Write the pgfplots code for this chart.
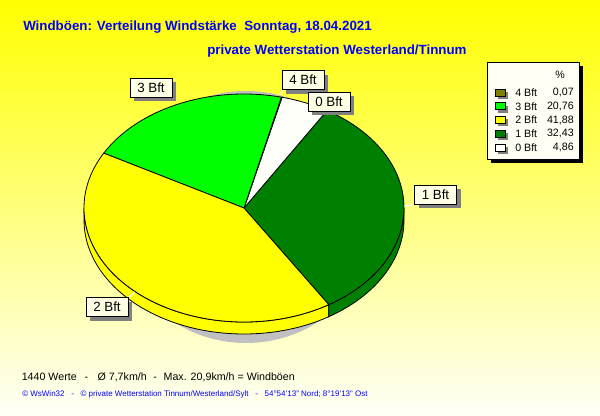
\documentclass[border=0pt]{standalone}
\usepackage{fontspec}
\setmainfont{Liberation Sans}
\usepackage{pgfplots}
\pgfplotsset{compat=1.18}
\usepackage{pgfplotstable}

\definecolor{bft4}{HTML}{808000}
\definecolor{bft3}{HTML}{00FF00}
\definecolor{bft2}{HTML}{FFFF00}
\definecolor{bft1}{HTML}{008000}
\definecolor{bft0}{HTML}{FFFFFA}
\definecolor{titleblue}{HTML}{0000FF}
\definecolor{boxcream}{HTML}{FFFFE6}
\definecolor{legcream}{HTML}{FFFFF5}
\definecolor{pieshadow}{HTML}{C0C0C0}
\definecolor{boxshadow}{HTML}{808080}

% share of the day in each wind force class (percent)
\pgfplotstableread[col sep=comma]{
bft,pct
4,0.07
3,20.76
2,41.88
1,32.43
0,4.86
}\windtab

\newcommand\getpct[2]{\pgfplotstablegetelem{#1}{pct}\of\windtab\let#2\pgfplotsretval}

% pie: centre (244,208) px, radii 160x114 px = 120x85.5 pt, depth 12 px = 9 pt
\newcommand\slice[3]{%
  \filldraw[fill=#3, draw=black, line width=0.6pt] (axis cs:244,208) -- ++(#1:120pt and 85.5pt)
    arc[start angle=#1, end angle=#2, x radius=120pt, y radius=85.5pt] -- cycle;}
\newcommand\side[3]{%
  \filldraw[fill=#3, draw=black, line width=0.6pt] (axis cs:244,208) ++(#1:120pt and 85.5pt) ++(0,-9pt)
    arc[start angle=#1, end angle=#2, x radius=120pt, y radius=85.5pt] -- ++(0,9pt)
    arc[start angle=#2, end angle=#1, x radius=120pt, y radius=85.5pt] -- cycle;}
\newcommand\pielabel[3]{%
  \node[fill=boxshadow, minimum width=31.5pt, minimum height=14.25pt, inner sep=0pt,
        xshift=3pt, yshift=-3pt] at (axis cs:#1,#2) {};
  \node[draw=black, fill=boxcream, line width=0.6pt, minimum width=31.5pt, minimum height=14.25pt,
        inner sep=0pt, font=\fontsize{10}{12}\selectfont] at (axis cs:#1,#2) {#3};}
\newcommand\legrow[4]{%
  \fill[boxshadow] (axis cs:495,#1) ++(2.25pt,0.4pt) rectangle ++(7.5pt,-5.25pt);
  \filldraw[fill=#2, draw=black, line width=0.6pt] (axis cs:495,#1) ++(0,2.6pt) rectangle ++(7.5pt,-5.25pt);
  \node[anchor=west, inner sep=0pt, font=\fontsize{8}{9}\selectfont] at (axis cs:515,#1) {#3};
  \node[anchor=east, inner sep=0pt, font=\fontsize{8}{9}\selectfont] at (axis cs:574,#1)
    {\pgfmathprintnumber[fixed, fixed zerofill, precision=2, use comma, assume math mode=true]{#4}};}

\begin{document}%
\getpct{0}\pFour\getpct{1}\pThree\getpct{2}\pTwo\getpct{3}\pOne\getpct{4}\pZero%
\pgfmathsetmacro\aO{-58}%
\pgfmathsetmacro\aA{\aO+3.6*\pOne}%
\pgfmathsetmacro\aB{\aA+3.6*\pZero}%
\pgfmathsetmacro\aC{\aB+3.6*\pFour}%
\pgfmathsetmacro\aD{\aC+3.6*\pThree}%
\pgfmathsetmacro\aE{\aD+3.6*\pTwo}%
\begin{tikzpicture}
\begin{axis}[
    width=450pt, height=311.25pt,
    scale only axis,
    xmin=0, xmax=600, ymin=0, ymax=415,
    y dir=reverse,
    hide axis,
    clip=false
]
    % background
    \shade[top color=bft2, bottom color=white!97!yellow] (axis cs:0,0) rectangle (axis cs:600,415);

    % shadow under the pie
    \fill[pieshadow] (axis cs:246,217) ellipse [x radius=97.5pt, y radius=94.5pt];

    % front side of the pie
    \side{180}{\aE}{bft2}
    \side{\aO}{0}{bft1}

    % top face
    \slice{\aO}{\aA}{bft1}
    \slice{\aA}{\aB}{bft0}
    \slice{\aB}{\aC}{bft4}
    \slice{\aC}{\aD}{bft3}
    \slice{\aD}{\aE}{bft2}

    % leader lines
    \draw[white, line width=0.75pt] (axis cs:404,206) -- (axis cs:414,205);
    \draw[white, line width=0.75pt] (axis cs:128,298) -- (axis cs:135,292);
    \draw[white, line width=0.75pt] (axis cs:281,95) -- (axis cs:283,89);

    % slice labels
    \pielabel{151}{87.5}{3 Bft}
    \pielabel{303}{80}{4 Bft}
    \pielabel{329}{101.5}{0 Bft}
    \pielabel{435.5}{194.5}{1 Bft}
    \pielabel{107}{307}{2 Bft}

    % legend
    \fill[black] (axis cs:491,66) rectangle (axis cs:583,163);
    \filldraw[fill=legcream, draw=black, line width=0.6pt] (axis cs:487,62) rectangle (axis cs:579,159);
    \node[inner sep=0pt, font=\fontsize{8}{9}\selectfont] at (axis cs:560,75) {\%};
    \legrow{92.5}{bft4}{4 Bft}{\pFour}
    \legrow{106.25}{bft3}{3 Bft}{\pThree}
    \legrow{120}{bft2}{2 Bft}{\pTwo}
    \legrow{133.75}{bft1}{1 Bft}{\pOne}
    \legrow{147.5}{bft0}{0 Bft}{\pZero}

    % titles
    \node[anchor=base west, inner sep=0pt, text=titleblue, font=\fontsize{10}{12}\selectfont\bfseries]
        at (axis cs:23,30) {Windböen: Verteilung Windstärke\ \ Sonntag, 18.04.2021};
    \node[anchor=base west, inner sep=0pt, text=titleblue, font=\fontsize{10}{12}\selectfont\bfseries]
        at (axis cs:207,54) {private Wetterstation Westerland/Tinnum};

    % footer
    \node[anchor=base west, inner sep=0pt, font=\fontsize{8}{10}\selectfont] at (axis cs:21.5,380.7)
        {1440 Werte\hspace{6pt}-\hspace{7pt}Ø 7,7km/h\hspace{5pt}-\hspace{5pt}Max. 20,9km/h = Windböen};
    \node[anchor=base west, inner sep=0pt, text=titleblue, font=\fontsize{6}{7}\selectfont] at (axis cs:22,396.5)
        {© WsWin32\hspace{5pt}-\hspace{5pt}© private Wetterstation Tinnum/Westerland/Sylt\hspace{5pt}-\hspace{5pt}54°54'13" Nord; 8°19'13" Ost};
\end{axis}
\end{tikzpicture}%
\end{document}
